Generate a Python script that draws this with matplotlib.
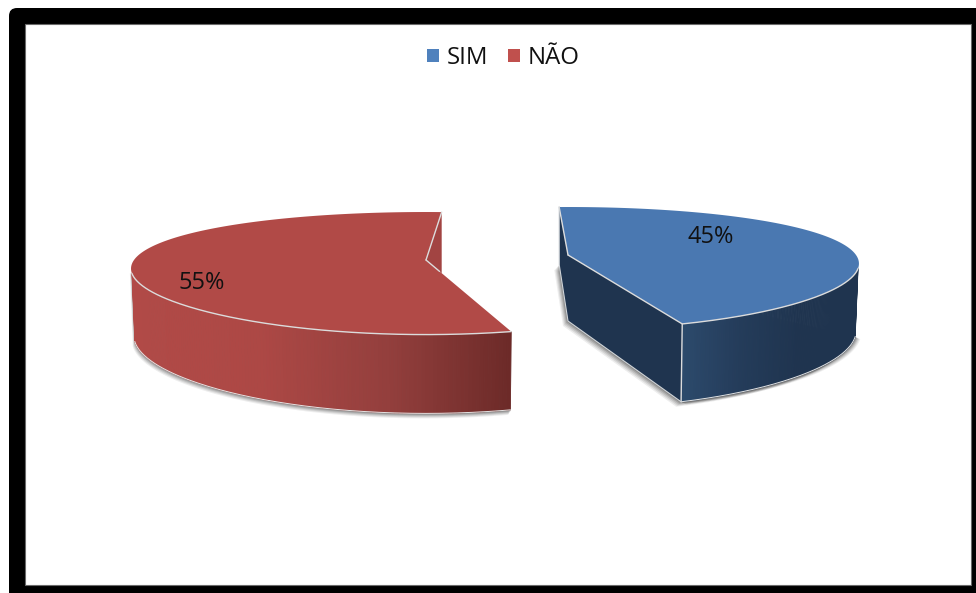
import numpy as np
import matplotlib
matplotlib.use("Agg")
import matplotlib.pyplot as plt
from matplotlib.patches import Polygon, Rectangle, FancyBboxPatch, Patch
from matplotlib.collections import PolyCollection
from matplotlib.colors import LinearSegmentedColormap

categories = ["SIM", "NÃO"]
values = [45, 55]
top_colors = ["#4A78B1", "#B14A47"]
face_colors = ["#1F344F", "#A24442"]
legend_colors = ["#4F81BD", "#C0504D"]
wall_gradients = [["#2C4A6C", "#243C5A", "#1F344F", "#1F344F"],
                  ["#B14A47", "#AD4845", "#943F3D", "#6C2A28"]]
# (apex x, apex y, half width, start angle) for each exploded slice
slice_geom = [(568, 255, 288, 92.0), (426, 260, 292, 86.5)]
label_pos = [(711, 237), (202, 283)]
B, K, DEPTH, XP = 58.4, 0.217, 66, 0.65

plt.rcParams["font.family"] = ["Open Sans", "DejaVu Sans"]
fig = plt.figure(figsize=(9.76, 5.93), dpi=100, facecolor="white")
ax = fig.add_axes([0, 0, 1, 1])
ax.set_xlim(0, 976)
ax.set_ylim(593, 0)
ax.axis("off")

ax.add_patch(FancyBboxPatch((9, 8), 1000, 700, boxstyle="round,pad=0,rounding_size=8",
                            mutation_aspect=1, fc="black", ec="none", zorder=0))
ax.add_patch(Rectangle((25, 24), 945.5, 561, fc="white", ec="#6a6a6a", lw=0.8, zorder=1))


def project(cx, cy, a, theta):
    t = np.radians(theta)
    x, y = np.cos(t), np.sin(t)
    s = 1 / (1 + K * y)
    return cx + a * x * s ** XP, cy - B * y * s, s


def bottom(cx, px, py, s):
    return cx + (px - cx) * 0.99, py + DEPTH * (1 + 0.7 * (s - 1))


edge = dict(color="#dcdcdc", lw=1.0, solid_capstyle="round", zorder=8)
sil = np.degrees(np.arcsin(K))
for i, v in enumerate(values):
    cx, cy, a, st = slice_geom[i]
    span = v / sum(values) * 360
    clockwise = i == 0
    end = st - span if clockwise else st + span
    th = np.linspace(st, end, 240)
    px, py, s = project(cx, cy, a, th)

    # visible part of outer wall
    if clockwise:
        w = np.linspace(end, -sil, 140)
    else:
        w = np.linspace(180 + sil, end, 140)
    wx, wy, ws = project(cx, cy, a, w)
    wbx, wby = bottom(cx, wx, wy, ws)

    ex, ey, es = px[-1], py[-1], s[-1]
    fbx, fby = bottom(cx, ex, ey, es)
    abx, aby = bottom(cx, cx, cy, 1.0)
    tx, ty, ts = px[0], py[0], s[0]
    tbx, tby = bottom(cx, tx, ty, ts)

    # soft shadow below the solid
    for off, al in [(5, .10), (4, .14), (3, .18), (2, .25), (1, .35)]:
        if clockwise:
            outline = np.r_[[(tbx, tby), (abx, aby), (fbx, fby)], np.c_[wbx, wby]]
            ax.add_patch(Polygon(outline + [-off, off], fc="#555555", ec="none", alpha=al, zorder=2))
            ax.add_patch(Polygon(outline + [off, off * .5], fc="#555555", ec="none", alpha=al, zorder=2))
        else:
            outline = np.r_[np.c_[wbx, wby] + [0, off], [(wx[-1], wy[-1]), (wx[0], wy[0])]]
            ax.add_patch(Polygon(outline + [-off * .6 + 1, 0], fc="#555555", ec="none", alpha=al, zorder=2))

    # inner cut faces
    if clockwise:
        ax.add_patch(Polygon([(tx, ty), (cx, cy), (abx, aby), (tbx, tby)], fc=face_colors[i], ec="none", zorder=3))
        ax.add_patch(Polygon([(cx, cy), (ex, ey), (fbx, fby), (abx, aby)], fc=face_colors[i], ec="none", zorder=4))
    else:
        f = (tx - cx) / (ex - cx)
        ax.add_patch(Polygon([(tx, ty), (tx, cy + (ey - cy) * f), (cx, cy)], fc=face_colors[i], ec="none", zorder=3))

    # outer wall as a run of shaded strips
    cmap = LinearSegmentedColormap.from_list("w%d" % i, wall_gradients[i])
    grad_pos = (wx - wx[0]) / (wx[-1] - wx[0])
    verts = [[(wx[j], wy[j]), (wx[j + 1], wy[j + 1]), (wbx[j + 1], wby[j + 1]), (wbx[j], wby[j])]
             for j in range(len(wx) - 1)]
    cols = [cmap(grad_pos[j]) for j in range(len(wx) - 1)]
    ax.add_collection(PolyCollection(verts, facecolors=cols, edgecolors=cols, linewidths=0.6, zorder=5))

    # top face
    ax.add_patch(Polygon(np.r_[[(cx, cy)], np.c_[px, py]], fc=top_colors[i], ec="none", zorder=6))

    # light edges
    ax.plot(np.r_[cx, px[0]], np.r_[cy, py[0]], **edge)
    ax.plot(wx, wy, **edge)
    ax.plot(wbx, wby, color="#e4e4e4", lw=0.7, zorder=8)
    if clockwise:
        ax.plot([cx, ex, fbx], [cy, ey, fby], **edge)
        ax.plot([tx, tbx, abx, fbx], [ty, tby, aby, fby], color="#d0d4d8", lw=0.8, zorder=8)
    else:
        ax.plot([cx, cx + (ex - cx) * 0.16], [cy, cy + (ey - cy) * 0.16], **edge)

    ax.text(*label_pos[i], f"{v}%", fontsize=17, color="#111111", ha="center", va="center", zorder=9)

handles = [Patch(fc=c, ec="none", label=n) for c, n in zip(legend_colors, categories)]
ax.legend(handles=handles, ncol=2, frameon=False, loc="center", bbox_to_anchor=(503.5 / 976, 1 - 58 / 593),
          fontsize=17.3, handlelength=0.5, handleheight=0.5, handletextpad=0.3, columnspacing=0.85,
          labelcolor="#111111", borderpad=0)

fig.savefig("out.png", dpi=100, facecolor="white")
